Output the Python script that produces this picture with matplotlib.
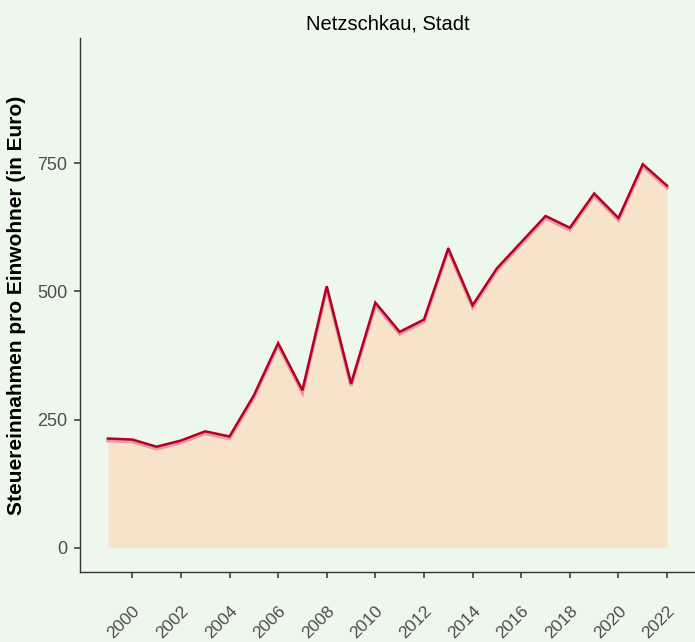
import matplotlib.pyplot as plt
import numpy as np

plt.rcParams['font.family'] = ['Liberation Sans', 'DejaVu Sans']

# Steuereinnahmen pro Einwohner, Netzschkau
years = list(range(1999, 2023))
values = [213, 211, 197, 209, 227, 217, 297, 399, 307, 510, 320, 478,
          421, 445, 584, 473, 545, 596, 647, 624, 691, 643, 748, 706]
yticks = [0, 250, 500, 750]
xticks = list(range(2000, 2023, 2))

bg = '#eef7ec'
fig = plt.figure(figsize=(6.95, 6.42), dpi=100, facecolor=bg)
ax = fig.add_axes([0.1151, 0.109, 0.885, 0.832], facecolor=bg)

ax.fill_between(years, 0, values, color='#f6e3ca', linewidth=0)
# lighter halo under the main line
ax.plot(years, np.array(values) - 4, color='#e07a8c', linewidth=2.6, alpha=0.7,
        solid_joinstyle='miter')
ax.plot(years, values, color='#b3002b', linewidth=1.8, solid_joinstyle='miter')

ax.set_xlim(1997.85, 2023.15)
ax.set_ylim(-47.4, 994.4)
ax.set_yticks(yticks)
ax.set_xticks(xticks)
ax.set_xticklabels([str(x) for x in xticks], rotation=45, ha='right', va='top',
                   rotation_mode='anchor')

for s in ['top', 'right']:
    ax.spines[s].set_visible(False)
for s in ['left', 'bottom']:
    ax.spines[s].set_color('#333333')
    ax.spines[s].set_linewidth(1.0)

ax.tick_params(axis='both', colors='#333333', labelcolor='#4d4d4d',
               labelsize=13, length=4.3, width=1.1)
ax.tick_params(axis='x', pad=18, labelsize=12.5)
ax.tick_params(axis='y', pad=5)

ax.set_ylabel('Steuereinnahmen pro Einwohner (in Euro)', fontsize=15,
              fontweight='bold', color='black', labelpad=8)
ax.set_title('Netzschkau, Stadt', fontsize=14.5, color='black', pad=6)

fig.savefig('out.png', dpi=100, facecolor=bg)
